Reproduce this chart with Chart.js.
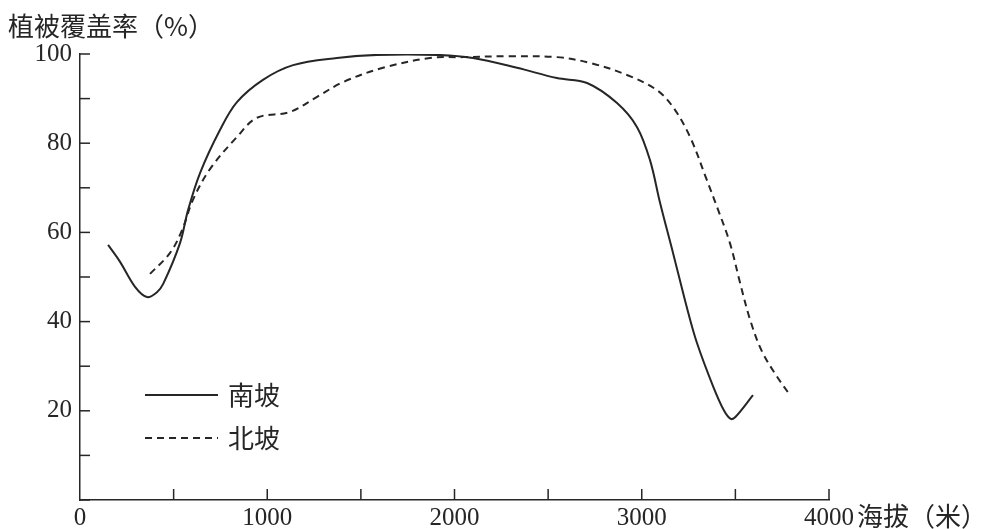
<!DOCTYPE html>
<html>
<head>
<meta charset="utf-8">
<script src="https://cdn.jsdelivr.net/npm/chart.js@4/dist/chart.umd.min.js"></script>
<style>
  html, body { margin: 0; padding: 0; background: #fff; }
  #wrap { width: 990px; height: 529px; position: relative; }
</style>
</head>
<body>
<div id="wrap"><canvas id="coverChart" width="990" height="529"></canvas></div>
<script>
// Vegetation cover (%) against altitude (m), south and north slopes
const southAltitude = [150, 214, 294, 358, 411, 445, 534, 577, 641, 748, 838, 977, 1138, 1372, 1586, 1907, 2099, 2334, 2547, 2708, 2868, 2975, 3044, 3098, 3167, 3242, 3295, 3381, 3440, 3475, 3500, 3594];
const southCover = [57.2, 53.4, 47.8, 45.5, 46.6, 48.5, 57.6, 65.0, 73.3, 83.0, 89.2, 94.2, 97.5, 99.1, 99.8, 99.8, 99.1, 96.9, 94.6, 93.5, 89.0, 83.6, 76.2, 66.6, 55.4, 43.0, 35.2, 25.5, 20.0, 18.2, 18.6, 23.5];

const northAltitude = [374, 481, 545, 603, 694, 838, 945, 1121, 1266, 1405, 1618, 1869, 2045, 2300, 2547, 2724, 2921, 3081, 3167, 3258, 3348, 3402, 3471, 3525, 3578, 3640, 3720, 3792];
const northCover = [50.7, 55.4, 60.5, 67.3, 74.2, 81.4, 85.7, 87.0, 90.4, 93.7, 96.9, 99.1, 99.3, 99.5, 99.3, 98.0, 95.3, 91.9, 88.1, 81.4, 71.7, 65.7, 57.6, 48.7, 40.5, 33.5, 27.8, 23.5];

const seriesNames = ["南坡", "北坡"];
const xTickLabels = [0, 1000, 2000, 3000, 4000];
const yTickLabels = [20, 40, 60, 80, 100];

const ink = "#262626";
const numFont = { family: "'Liberation Serif', 'DejaVu Serif', serif", size: 25 };
const cjkFont = "26px 'Noto Sans CJK SC', sans-serif";

function toPoints(xs, ys) {
  return xs.map((x, i) => ({ x: x, y: ys[i] }));
}

// short tick marks pointing into the plot, plus the axis titles and legend
const decorPlugin = {
  id: "decor",
  afterDraw(chart) {
    const ctx = chart.ctx;
    const xs = chart.scales.x;
    const ys = chart.scales.y;
    const area = chart.chartArea;
    ctx.save();
    ctx.strokeStyle = ink;
    ctx.lineWidth = 1.5;
    ys.ticks.forEach((t) => {
      const py = ys.getPixelForValue(t.value);
      ctx.beginPath();
      ctx.moveTo(area.left, py);
      ctx.lineTo(area.left + 10, py);
      ctx.stroke();
    });
    xs.ticks.forEach((t) => {
      if (t.value === 0) return;
      const px = xs.getPixelForValue(t.value);
      ctx.beginPath();
      ctx.moveTo(px, area.bottom);
      ctx.lineTo(px, area.bottom - 11);
      ctx.stroke();
    });

    ctx.fillStyle = ink;
    ctx.font = cjkFont;
    ctx.textBaseline = "middle";
    ctx.textAlign = "left";
    ctx.fillText("植被覆盖率（%）", 8, 26);
    ctx.fillText("海拔（米）", 857, 516);

    // legend
    const rows = [395, 438];
    chart.data.datasets.forEach((ds, i) => {
      const y = rows[i];
      ctx.beginPath();
      ctx.lineWidth = ds.borderWidth;
      ctx.setLineDash(ds.borderDash || []);
      ctx.moveTo(145, y);
      ctx.lineTo(218, y);
      ctx.stroke();
      ctx.setLineDash([]);
      ctx.fillText(ds.label, 228, y);
    });
    ctx.restore();
  },
};

new Chart(document.getElementById("coverChart"), {
  type: "line",
  data: {
    datasets: [
      {
        label: seriesNames[0],
        data: toPoints(southAltitude, southCover),
        borderColor: ink,
        borderWidth: 2,
        pointRadius: 0,
        tension: 0.35,
        fill: false,
      },
      {
        label: seriesNames[1],
        data: toPoints(northAltitude, northCover),
        borderColor: ink,
        borderWidth: 2,
        borderDash: [7, 5],
        pointRadius: 0,
        tension: 0.35,
        fill: false,
      },
    ],
  },
  options: {
    responsive: false,
    animation: false,
    layout: { padding: { left: 0, right: 161, top: 54, bottom: 0 } },
    plugins: {
      legend: { display: false },
      tooltip: { enabled: false },
    },
    scales: {
      x: {
        type: "linear",
        min: 0,
        max: 4000,
        grid: { display: false, drawTicks: false },
        border: { display: true, color: ink, width: 1.5 },
        ticks: {
          stepSize: 500,
          autoSkip: false,
          maxRotation: 0,
          padding: 3,
          color: ink,
          font: numFont,
          callback: (v) => (xTickLabels.includes(v) ? String(v) : ""),
        },
        afterFit(scale) { scale.height = 29; },
      },
      y: {
        min: 0,
        max: 100,
        grid: { display: false, drawTicks: false },
        border: { display: true, color: ink, width: 1.5 },
        ticks: {
          stepSize: 10,
          autoSkip: false,
          padding: 8,
          color: ink,
          font: numFont,
          callback: (v) => (yTickLabels.includes(v) ? String(v) : ""),
        },
        afterFit(scale) { scale.width = 80; },
      },
    },
  },
  plugins: [decorPlugin],
});
</script>
</body>
</html>
